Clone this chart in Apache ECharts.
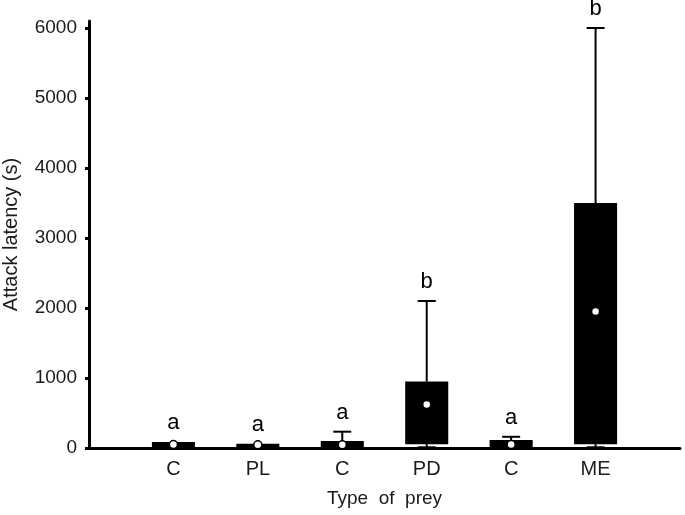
<!DOCTYPE html>
<html><head><meta charset="utf-8">
<script src="https://cdn.jsdelivr.net/npm/echarts@6/dist/echarts.min.js"></script>
<style>html,body{margin:0;padding:0;background:#fff}#c{width:685px;height:515px}</style>
</head><body><div id="c"></div>
<script>
const categories = ['', 'C', 'PL', 'C', 'PD', 'C', 'ME', ''];
const boxLow = [0, 0, 0, 55, 0, 55];
const boxHigh = [85, 60, 100, 950, 114, 3500];
const whiskerHigh = [85, 60, 233, 2100, 160, 6000];
const whiskerLow = [0, 0, 0, 10, 0, 10];
const medians = [50, 45, 45, 620, 50, 1950];
const letters = ['a', 'a', 'a', 'b', 'a', 'b'];
const yTicks = [0, 1000, 2000, 3000, 4000, 5000, 6000];

const FONT = 'Liberation Sans, Arial, sans-serif';
const data = letters.map((c, i) => [i + 1, boxLow[i], boxHigh[i], whiskerHigh[i], medians[i], whiskerLow[i]]);

const chart = echarts.init(document.getElementById('c'), null, {renderer: 'canvas'});
chart.setOption({
  animation: false,
  backgroundColor: '#fff',
  grid: {left: 89, right: 5, top: 21, bottom: 67, containLabel: false, outerBoundsMode: 'none'},
  xAxis: {
    type: 'category', data: categories, boundaryGap: false,
    axisLine: {lineStyle: {color: '#000', width: 3}},
    axisTick: {show: false},
    axisLabel: {color: '#1a1a1a', fontSize: 20, fontFamily: FONT, margin: 11, interval: 0},
    name: 'Type  of  prey', nameLocation: 'middle', nameGap: 41,
    nameTextStyle: {color: '#1a1a1a', fontSize: 19, fontFamily: FONT}
  },
  yAxis: {
    type: 'value', min: 0, max: 6100, interval: 1000,
    splitLine: {show: false},
    axisLine: {show: true, lineStyle: {color: '#000', width: 3}},
    axisTick: {show: true, length: 4, lineStyle: {width: 3, color: '#000'}, customValues: yTicks},
    axisLabel: {color: '#1a1a1a', fontSize: 19, fontFamily: FONT, margin: 12, customValues: yTicks,
      formatter: v => String(v)},
    name: 'Attack latency (s)', nameLocation: 'middle', nameGap: 68,
    nameTextStyle: {color: '#1a1a1a', fontSize: 20, fontFamily: FONT}
  },
  series: [{
    type: 'custom',
    data: data,
    encode: {x: 0, y: [1, 2, 3, 4, 5]},
    renderItem: function (params, api) {
      const i = api.value(0);
      const x = api.coord([i, 0])[0];
      const band = api.coord([i + 1, 0])[0] - x;
      const bw = band * 0.51;
      const yLo = api.coord([i, api.value(1)])[1];
      const yHi = api.coord([i, api.value(2)])[1];
      const yWh = api.coord([i, api.value(3)])[1];
      const yMed = api.coord([i, api.value(4)])[1];
      const yWl = api.coord([i, api.value(5)])[1];
      const capW = 18;
      const children = [];
      if (yWh < yHi - 0.5) {
        children.push({type: 'line', shape: {x1: x, y1: yHi, x2: x, y2: yWh}, style: {stroke: '#000', lineWidth: 2}});
        children.push({type: 'line', shape: {x1: x - capW / 2, y1: yWh, x2: x + capW / 2, y2: yWh}, style: {stroke: '#000', lineWidth: 2}});
      }
      if (yWl > yLo + 0.5) {
        children.push({type: 'line', shape: {x1: x, y1: yLo, x2: x, y2: yWl}, style: {stroke: '#000', lineWidth: 2}});
        children.push({type: 'line', shape: {x1: x - capW / 2, y1: yWl, x2: x + capW / 2, y2: yWl}, style: {stroke: '#000', lineWidth: 2}});
      }
      children.push({type: 'rect', shape: {x: x - bw / 2, y: yHi, width: bw, height: yLo - yHi}, style: {fill: '#000'}});
      children.push({type: 'circle', shape: {cx: x, cy: yMed, r: 4}, style: {fill: '#fff', stroke: '#000', lineWidth: 1.5}});
      children.push({type: 'text', style: {text: letters[i - 1], x: x, y: Math.min(yWh, yHi) - 19, align: 'center', verticalAlign: 'middle', fontSize: 22, fontFamily: FONT, fill: '#000'}});
      return {type: 'group', children: children};
    }
  }]
});
</script></body></html>
